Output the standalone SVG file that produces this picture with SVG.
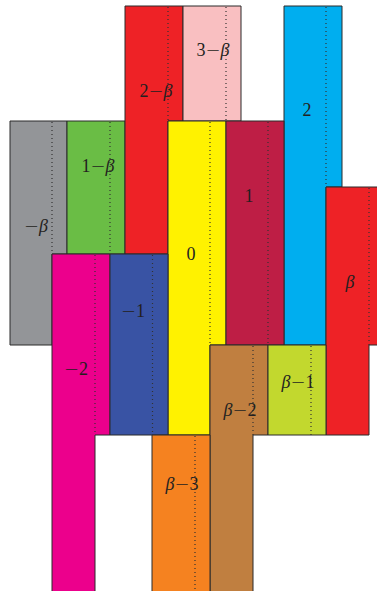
<svg xmlns="http://www.w3.org/2000/svg" width="377" height="591" viewBox="0 0 377 591">
<style>
.t{stroke:#2a2a2a;stroke-width:1;stroke-linejoin:miter}
.d{stroke:#333;stroke-width:1.2;stroke-dasharray:1 3;fill:none}
text{font-family:"Liberation Serif","DejaVu Serif",serif;font-size:18px;fill:#231f20;text-anchor:middle}
.i{font-style:italic}
.m{font-family:"DejaVu Sans",sans-serif;font-weight:300}
</style>
<rect width="377" height="591" fill="#fff"/>
<g id="tile-minus-beta">
<path class="t" fill="#939598" d="M10,121H67V254H52V345H10Z"/>
<line class="d" x1="52" y1="122" x2="52" y2="254"/>
<text x="36" y="232"><tspan class="m">−</tspan><tspan class="i">β</tspan></text>
</g>
<g id="tile-1-minus-beta">
<path class="t" fill="#6abd45" d="M67,121H125V254H67Z"/>
<line class="d" x1="110" y1="122" x2="110" y2="254"/>
<text x="98" y="172">1<tspan class="m">−</tspan><tspan class="i">β</tspan></text>
</g>
<g id="tile-2-minus-beta">
<path class="t" fill="#ee2226" d="M125,6H183V121H168V254H125Z"/>
<line class="d" x1="168" y1="7" x2="168" y2="121"/>
<text x="156" y="97">2<tspan class="m">−</tspan><tspan class="i">β</tspan></text>
</g>
<g id="tile-3-minus-beta">
<path class="t" fill="#f9bfc1" d="M183,6H241V121H183Z"/>
<line class="d" x1="226" y1="7" x2="226" y2="121"/>
<text x="213" y="56">3<tspan class="m">−</tspan><tspan class="i">β</tspan></text>
</g>
<g id="tile-2">
<path class="t" fill="#00aeef" d="M284,6H342V187H326V345H284Z"/>
<line class="d" x1="326" y1="7" x2="326" y2="187"/>
<text x="307" y="116">2</text>
</g>
<g id="tile-0">
<path class="t" fill="#fff200" d="M168,121H226V345H210V435H168Z"/>
<line class="d" x1="210" y1="122" x2="210" y2="345"/>
<text x="191" y="260">0</text>
</g>
<g id="tile-1">
<path class="t" fill="#be1e45" d="M226,121H284V345H226Z"/>
<line class="d" x1="268" y1="122" x2="268" y2="345"/>
<text x="249" y="202">1</text>
</g>
<g id="tile-beta">
<path class="t" fill="#ee2226" d="M326,187H384V345H369V435H326Z"/>
<line class="d" x1="369" y1="188" x2="369" y2="345"/>
<text x="350" y="288" class="i">β</text>
</g>
<g id="tile-minus-2">
<path class="t" fill="#ec008c" d="M52,254H110V435H95V600H52Z"/>
<line class="d" x1="95" y1="255" x2="95" y2="435"/>
<text x="76" y="375"><tspan class="m">−</tspan>2</text>
</g>
<g id="tile-minus-1">
<path class="t" fill="#3953a4" d="M110,254H168V435H110Z"/>
<line class="d" x1="152.5" y1="255" x2="152.5" y2="435"/>
<text x="133" y="317"><tspan class="m">−</tspan>1</text>
</g>
<g id="tile-beta-minus-2">
<path class="t" fill="#c07f40" d="M210,345H268V435H253V600H210Z"/>
<line class="d" x1="253" y1="346" x2="253" y2="435"/>
<text x="240" y="416"><tspan class="i">β</tspan><tspan class="m">−</tspan>2</text>
</g>
<g id="tile-beta-minus-1">
<path class="t" fill="#c2d82e" d="M268,345H326V435H268Z"/>
<line class="d" x1="311" y1="346" x2="311" y2="435"/>
<text x="298" y="388"><tspan class="i">β</tspan><tspan class="m">−</tspan>1</text>
</g>
<g id="tile-beta-minus-3">
<path class="t" fill="#f58220" d="M152,435H210V600H152Z"/>
<line class="d" x1="195" y1="436" x2="195" y2="600"/>
<text x="182" y="490"><tspan class="i">β</tspan><tspan class="m">−</tspan>3</text>
</g>
</svg>
